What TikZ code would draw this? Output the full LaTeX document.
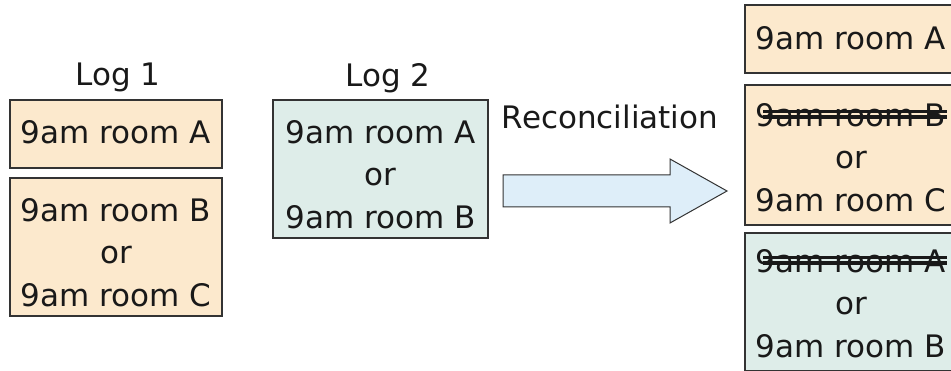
\documentclass[tikz,border=0pt]{standalone}
\usepackage{fontspec}
\setmainfont{DejaVu Sans}
\definecolor{peach}{HTML}{FCE9CD}
\definecolor{mint}{HTML}{DEEDE9}
\definecolor{skyfill}{HTML}{DEEEF9}
\definecolor{edge}{HTML}{333333}
\newcommand\strk[1]{\sbox0{#1}\makebox[\wd0][l]{\usebox0\kern-\wd0\kern0.22em\rule[0.24em]{\dimexpr\wd0-0.2em\relax}{3.5pt}\kern-\dimexpr\wd0-0.2em\relax\rule[0.42em]{\dimexpr\wd0-0.2em\relax}{3.5pt}}}
\tikzset{
  box/.style={draw=edge, line width=1.4pt, inner sep=0pt, minimum width=#1},
  pbox/.style={box=212pt, fill=peach},
  mbox/.style={box=215pt, fill=mint},
  txt/.style={anchor=north, inner sep=0pt, align=center, text=black!90,
    font=\fontsize{31}{42.5}\selectfont},
}
\begin{document}
\begin{tikzpicture}[x=1pt,y=-1pt]
\useasboundingbox (0,0) rectangle (951,371);
% Log 1
\node[txt] (log1) at (118,63) {Log 1};
\node[pbox, minimum height=68pt] (l1a) at (116,134) {};
\node[txt] (l1at) at (116,120) {9am room A};
\node[pbox, minimum height=138pt] (l1b) at (116,247) {};
\node[txt] (l1bt) at (116,198) {9am room B\\or\\9am room C};
% Log 2
\node[txt] (log2) at (388,63) {Log 2};
\node[mbox, minimum height=138pt] (l2) at (380.5,169) {};
\node[txt] (l2t) at (380.5,120) {9am room A\\or\\9am room B};
% arrow
\node[txt] (rec) at (610,105) {Reconciliation};
\draw[draw=edge, line width=1pt, fill=skyfill, line join=miter]
  (503,175) -- (670,175) -- (670,159) -- (727,191) -- (670,223) -- (670,207) -- (503,207) -- cycle;
% result
\node[pbox, minimum height=68pt] (ra) at (851,39) {};
\node[txt] (rat) at (851,26) {9am room A};
\node[pbox, minimum height=140pt] (rb) at (851,155) {};
\node[txt] (rbt) at (851,103) {\strk{9am room B}\\or\\9am room C};
\node[mbox, minimum height=138pt, minimum width=212pt] (rc) at (851,302) {};
\node[txt] (rct) at (851,249) {\strk{9am room A}\\or\\9am room B};
\end{tikzpicture}
\end{document}
